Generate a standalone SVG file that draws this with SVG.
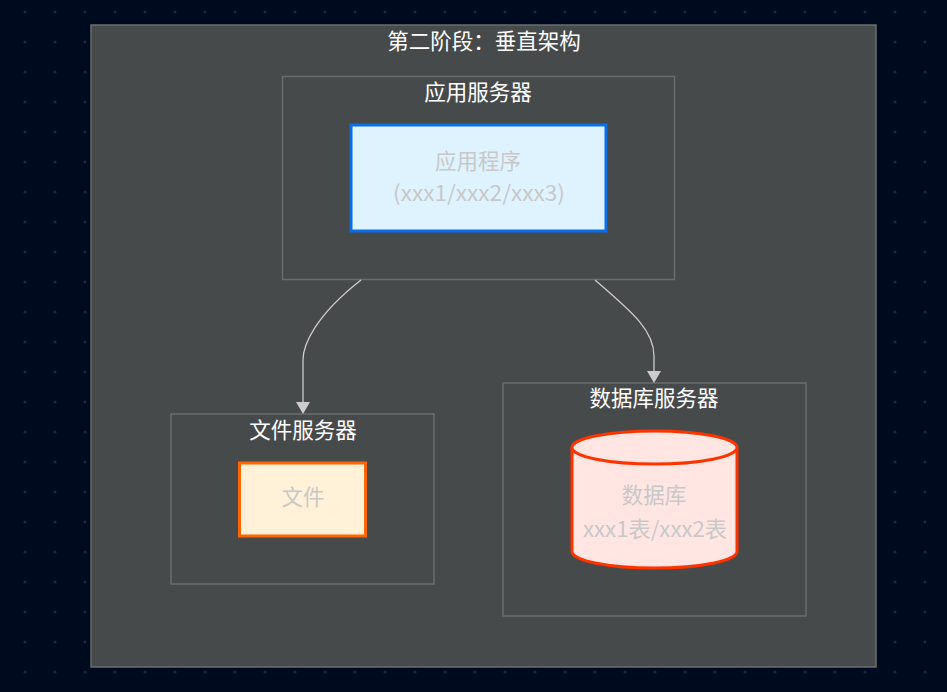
<svg xmlns="http://www.w3.org/2000/svg" width="947" height="692" viewBox="0 0 947 692">
<defs>
<pattern id="dots" x="10" y="-3" width="30" height="30" patternUnits="userSpaceOnUse">
<circle cx="15" cy="15" r="1.5" fill="#1f2638"/>
</pattern>
<marker id="arr" markerWidth="12" markerHeight="14" refX="10" refY="7" orient="auto" markerUnits="userSpaceOnUse">
<path d="M0,0 L12,7 L0,14 Z" fill="#cccccc"/>
</marker>
<style>
.cluster{fill:#474a4b;stroke:#6a6d6e;stroke-width:1.5}
.ctitle{fill:#ffffff;font-family:"Noto Sans CJK SC","Noto Sans",sans-serif;font-size:21.5px;text-anchor:middle}
.ntext{fill:#c8c8c8;font-family:"Noto Sans CJK SC","Noto Sans",sans-serif;font-size:21.5px;text-anchor:middle}
.edge{fill:none;stroke:#cccccc;stroke-width:1.3}
</style>
</defs>
<rect width="947" height="692" fill="#000a1e"/>
<rect width="947" height="692" fill="url(#dots)"/>
<g id="stage2">
<rect class="cluster" x="91" y="25" width="785" height="642"/>
<text class="ctitle" x="484" y="49">第二阶段：垂直架构</text>
</g>
<g id="appServer">
<rect class="cluster" x="282.5" y="76.5" width="392" height="203"/>
<text class="ctitle" x="478" y="100">应用服务器</text>
</g>
<g id="fileServer">
<rect class="cluster" x="171" y="414" width="263" height="170"/>
<text class="ctitle" x="303" y="438">文件服务器</text>
</g>
<g id="dbServer">
<rect class="cluster" x="503" y="383" width="303" height="233"/>
<text class="ctitle" x="654" y="406">数据库服务器</text>
</g>
<g id="connectors">
<path class="edge" d="M361,280 C315,316 303,345 303,360 L303,412" marker-end="url(#arr)"/>
<path class="edge" d="M595,280 C632,312 654,330 654,356 L654,381" marker-end="url(#arr)"/>
</g>
<g id="app">
<rect x="351" y="125" width="255" height="106" fill="#dff3ff" stroke="#0a6ee8" stroke-width="3"/>
<text class="ntext" x="478" y="169">应用程序</text>
<text class="ntext" x="479" y="201" textLength="172" lengthAdjust="spacingAndGlyphs">(xxx1/xxx2/xxx3)</text>
</g>
<g id="file">
<rect x="239.5" y="463" width="126" height="73" fill="#fff2d8" stroke="#ff6600" stroke-width="3"/>
<text class="ntext" x="303" y="505">文件</text>
</g>
<g id="db">
<path d="M572,447.5 L572,551.5 A82.5,16.5 0 0 0 737,551.5 L737,447.5" fill="#ffe6e3" stroke="#ff3300" stroke-width="3"/>
<ellipse cx="654.5" cy="447.5" rx="82.5" ry="16.5" fill="#ffe6e3" stroke="#ff3300" stroke-width="3"/>
<text class="ntext" x="654" y="503">数据库</text>
<text class="ntext" x="655" y="537" textLength="144" lengthAdjust="spacingAndGlyphs">xxx1表/xxx2表</text>
</g>
</svg>
